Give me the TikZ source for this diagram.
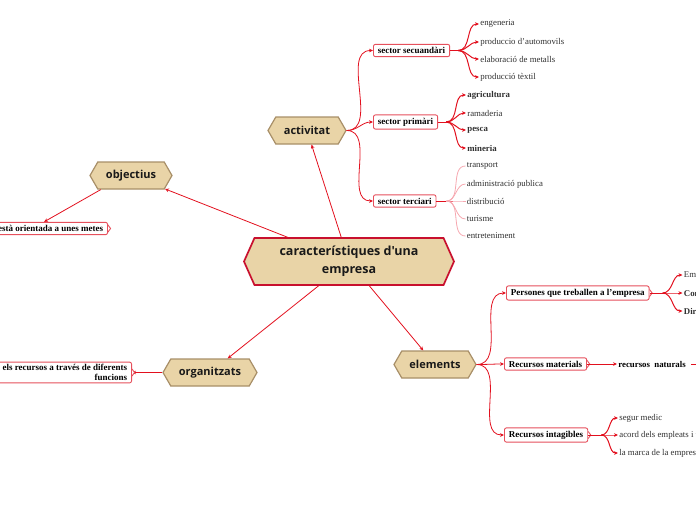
\documentclass[tikz,border=0pt]{standalone}
\usepackage{fontspec}
\setmainfont{Liberation Serif}
\newfontfamily\hexfont{Open Sans}
\usetikzlibrary{arrows.meta,shapes.symbols,calc}

\definecolor{tanfill}{HTML}{E9D4A7}
\definecolor{hexedge}{HTML}{A88F68}
\definecolor{coreedge}{HTML}{C8102E}
\definecolor{wire}{HTML}{E2101E}
\definecolor{boxedge}{HTML}{E6505C}
\definecolor{softwire}{HTML}{F6A8B0}
\definecolor{leafgray}{HTML}{303030}

% small brace mark on the right side of a box
\newcommand\boxtick[1]{\draw[boxedge, line width=0.9pt, fill=white] ($(#1)+(0,-3.5)$) -- ++(2.6,3.5) -- ++(-2.6,3.5);}

\begin{document}
\begin{tikzpicture}[
  x=1pt, y=-1pt,
  >={Stealth[length=4pt,width=3.6pt]},
  hexnode/.style={shape=signal, signal to=west and east, signal pointer angle=120, draw=hexedge, line width=1.2pt, fill=tanfill, minimum height=27pt, inner sep=2pt, text=black!90, font=\hexfont\bfseries\fontsize{11}{13}\selectfont},
  corenode/.style={hexnode, draw=coreedge, line width=1.7pt, signal pointer angle=132, minimum width=210pt, minimum height=47pt, align=center, font=\hexfont\bfseries\fontsize{12.5}{18}\selectfont},
  catbox/.style={draw=boxedge, line width=0.9pt, rounded corners=2pt, fill=white, anchor=west, inner xsep=4.5pt, inner ysep=3pt, font=\bfseries\fontsize{9}{10.4}\selectfont},
  sidebox/.style={catbox, anchor=east, align=flush right},
  leaf/.style={anchor=west, inner xsep=1.2pt, inner ysep=1pt, text=leafgray, font=\fontsize{8.8}{10}\selectfont},
  link/.style={->, wire, line width=0.8pt},
  fan/.style={wire, line width=1pt},
  softfan/.style={softwire, line width=0.8pt}
]
\useasboundingbox (0,0) rectangle (696,520);

% main hexagons
\node[corenode] (car) at (349,261.5) {característiques d'una\\empresa};
\node[hexnode, minimum width=78pt] (act) at (307,130.5) {activitat};
\node[hexnode, minimum width=82pt] (obj) at (131,175.5) {objectius};
\node[hexnode, minimum width=94pt] (org) at (210,372.5) {organitzats};
\node[hexnode, minimum width=82pt] (ele) at (435,364.5) {elements};

\foreach \h in {act,obj,org,ele} \draw[link] (car) -- (\h);

% activitat
\node[catbox] (sec2) at (373,50.5) {sector secuandàri};
\node[catbox] (sec1) at (373,122) {sector primàri};
\node[catbox] (sec3) at (373,201) {sector terciari};
\foreach \s in {sec2,sec1,sec3} \draw[link] (act.east) to[out=0,in=180] (\s.west);

\foreach \y/\n/\t in {24/eng/engeneria, 42/aut/produccio d'automovils, 59/met/elaboració de metalls, 77/tex/producció tèxtil}
  \node[leaf] (\n) at (479,\y) {\t};
\coordinate (j2) at ($(sec2.east)+(8,0)$);
\draw[fan] (sec2.east) -- (j2);
\foreach \n in {eng,aut,met,tex} \draw[fan,->] (j2) to[out=0,in=180] (\n.west);

\foreach \y/\n/\t in {95/agr/\textbf{agricultura}, 113/ram/ramaderia, 130/pes/\textbf{pesca}, 148/min/\textbf{mineria}}
  \node[leaf] (\n) at (466,\y) {\t};
\coordinate (j1) at ($(sec1.east)+(8,0)$);
\draw[fan] (sec1.east) -- (j1);
\foreach \n in {agr,ram,pes,min} \draw[fan,->] (j1) to[out=0,in=180] (\n.west);

\foreach \y/\n/\t in {166/tra/transport, 184/adm/administració publica, 201/dis/distribució, 219/tur/turisme, 236/ent/entreteniment}
  \node[leaf] (\n) at (465.5,\y) {\t};
\coordinate (j3) at ($(sec3.east)+(17,0)$);
\draw[fan] (sec3.east) -- (j3);
\foreach \n in {tra,adm,dis,tur,ent} \draw[softfan] ($(j3)+(-7,0)$) to[out=0,in=180] (\n.west);

% objectius
\node[sidebox, text width=118pt] (goal) at (108,228.5) {està orientada a unes metes};
\draw[link] (obj.205) -- (goal.north);
\boxtick{goal.east}

% organitzats
\node[sidebox, text width=150pt, inner ysep=2pt] (res) at (132,372.5) {els recursos a través de diferents\\funcions};
\draw[link] (org.west) -- (res.east);
\boxtick{res.east}

% elements
\node[catbox] (per) at (506,293) {Persones que treballen a l'empresa};
\node[catbox] (mat) at (504,364) {Recursos materials};
\node[catbox] (int) at (504,435) {Recursos intagibles};
\foreach \s in {per,mat,int} \draw[link] (ele.east) to[out=0,in=180] (\s.west);
\foreach \s in {per,mat,int} {\boxtick{\s.east}}

\foreach \y/\n/\t in {275/emp/Empleats, 293/com/\textbf{Comandaments}, 311/dir/\textbf{Directius}}
  \node[leaf] (\n) at (682.5,\y) {\t};
\coordinate (jp) at ($(per.east)+(13,0)$);
\draw[fan] (per.east) -- (jp);
\foreach \n in {emp,com,dir} \draw[fan,->] (jp) to[out=0,in=180] (\n.west);

\node[leaf, text=black] (nat) at (617,364) {\textbf{recursos\ \ naturals}};
\draw[link] (mat.east) -- (nat.west);
\coordinate (offr) at (720,364);
\draw[fan, shorten <=4pt] (nat.east) -- (offr);

\foreach \y/\n/\t in {418/seg/segur medic, 435/aco/acord dels empleats i treballadors, 453/mar/la marca de la empresa}
  \node[leaf] (\n) at (618,\y) {\t};
\coordinate (ji) at ($(int.east)+(13,0)$);
\draw[fan] (int.east) -- (ji);
\foreach \n in {seg,aco,mar} \draw[fan,->] (ji) to[out=0,in=180] (\n.west);
\end{tikzpicture}
\end{document}
